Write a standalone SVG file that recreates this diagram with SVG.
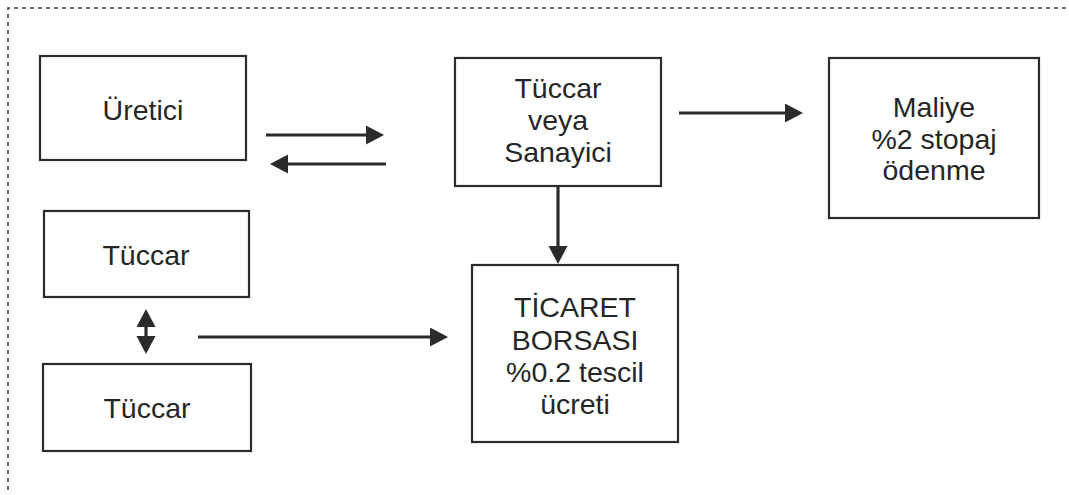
<svg xmlns="http://www.w3.org/2000/svg" width="1069" height="495" viewBox="0 0 1069 495">
<style>
.box{fill:#fff;stroke:#2b2b2b;stroke-width:2.2}
.t{font-family:"Liberation Sans",Arial,sans-serif;font-size:28.5px;fill:#262626;text-anchor:middle}
.c{stroke:#2b2b2b;stroke-width:3.2;fill:none}
.border{stroke:#444;stroke-width:1.6;fill:none;stroke-dasharray:4 4}
</style>
<defs>
<marker id="ah" markerUnits="userSpaceOnUse" markerWidth="18" markerHeight="20" refX="1" refY="9.5" orient="auto-start-reverse">
<path d="M0,0 L18,9.5 L0,19 z" fill="#2b2b2b"/>
</marker>
</defs>
<path class="border" d="M8,490 L8,8 L1069,8"/>
<g id="uretici"><rect class="box" x="40" y="56" width="206" height="104"/><text class="t" x="143" y="120">Üretici</text></g>
<g id="tuccar-sanayici"><rect class="box" x="455" y="58" width="206" height="128"/><text class="t" x="558" y="98">Tüccar</text><text class="t" x="558" y="130">veya</text><text class="t" x="558" y="162">Sanayici</text></g>
<g id="maliye"><rect class="box" x="829" y="58" width="210" height="160"/><text class="t" x="934" y="117">Maliye</text><text class="t" x="934" y="148.5">%2 stopaj</text><text class="t" x="934" y="180">ödenme</text></g>
<g id="tuccar1"><rect class="box" x="44" y="211" width="205" height="86"/><text class="t" x="146" y="265">Tüccar</text></g>
<g id="tuccar2"><rect class="box" x="43" y="364" width="208" height="87"/><text class="t" x="147" y="418">Tüccar</text></g>
<g id="borsa"><rect class="box" x="472" y="265" width="206" height="177"/><text class="t" x="575" y="317">TİCARET</text><text class="t" x="575" y="349.5">BORSASI</text><text class="t" x="575" y="382">%0.2 tescil</text><text class="t" x="575" y="414">ücreti</text></g>
<g id="connectors">
<line class="c" x1="266" y1="135" x2="367" y2="135" marker-end="url(#ah)"/>
<line class="c" x1="386" y1="164" x2="287" y2="164" marker-end="url(#ah)"/>
<line class="c" x1="679" y1="113" x2="786" y2="113" marker-end="url(#ah)"/>
<line class="c" x1="558" y1="187" x2="558" y2="247" marker-end="url(#ah)"/>
<line class="c" x1="198" y1="337" x2="431" y2="337" marker-end="url(#ah)"/>
<line class="c" x1="146" y1="326" x2="146" y2="337" marker-start="url(#ah)" marker-end="url(#ah)"/>
</g>
</svg>
